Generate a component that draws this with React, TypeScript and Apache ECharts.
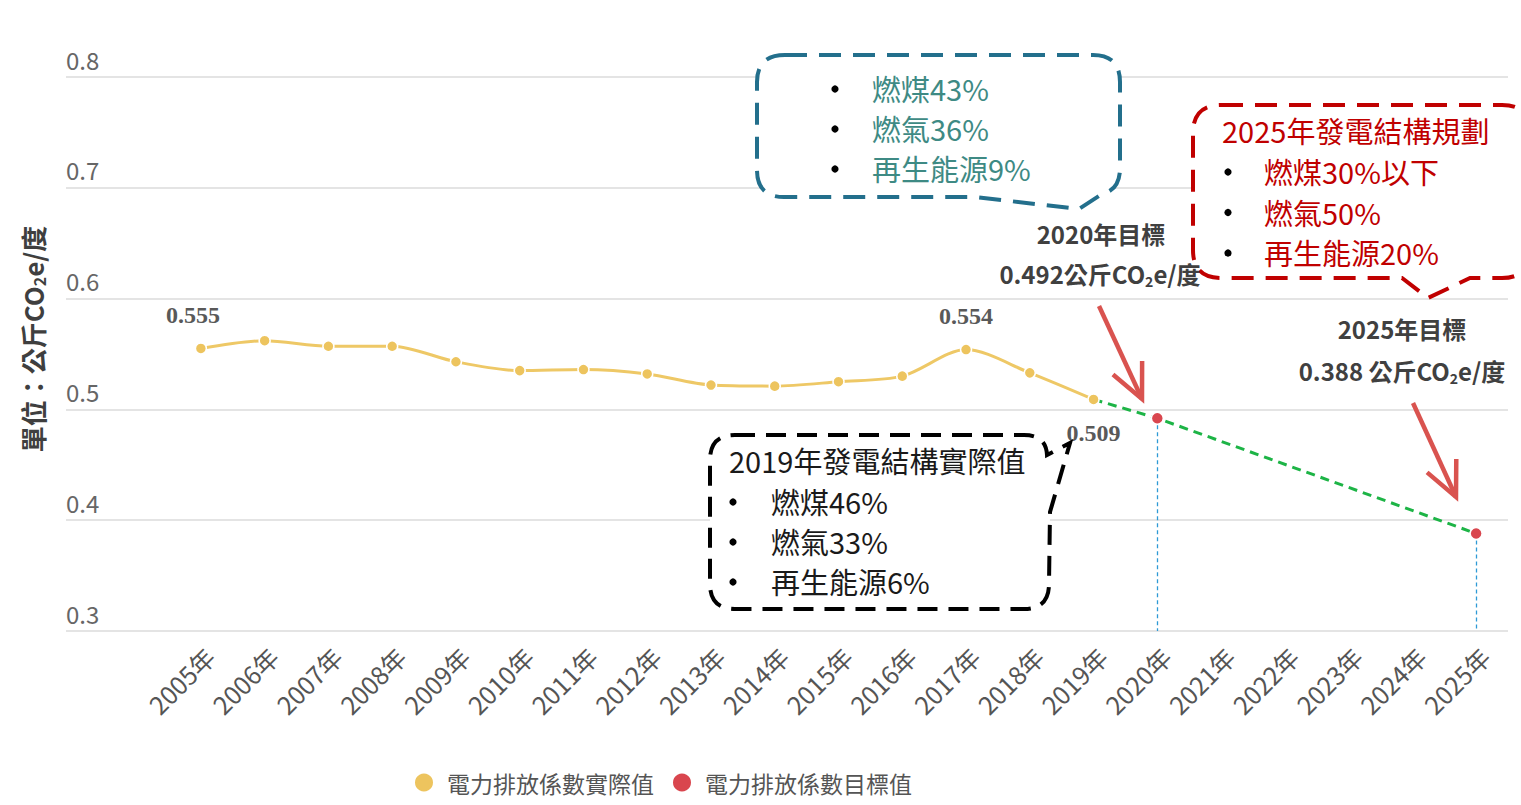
import React, { useEffect, useRef } from 'react';
import * as echarts from 'echarts';

// ---------- data ----------
const years = [
  '2005年', '2006年', '2007年', '2008年', '2009年', '2010年', '2011年',
  '2012年', '2013年', '2014年', '2015年', '2016年', '2017年', '2018年',
  '2019年', '2020年', '2021年', '2022年', '2023年', '2024年', '2025年',
];
const actualValues: (number | null)[] = [
  0.555, 0.562, 0.557, 0.557, 0.543, 0.535, 0.536, 0.532, 0.522, 0.521,
  0.525, 0.530, 0.554, 0.533, 0.509, null, null, null, null, null, null,
];
const targetValues: (number | null)[] = [
  null, null, null, null, null, null, null, null, null, null,
  null, null, null, null, null, 0.492, null, null, null, null, 0.388,
];
const trendValues: (number | null)[] = [
  null, null, null, null, null, null, null, null, null, null,
  null, null, null, null, 0.509, 0.492, null, null, null, null, 0.388,
];
const labeledYears = ['2005年', '2017年', '2019年'];
const yMin = 0.3;
const yMax = 0.8;
const yStep = 0.1;

const seriesActual = '電力排放係數實際值';
const seriesTarget = '電力排放係數目標值';
const yAxisTitle = ['單位：公斤CO', '2', 'e/度'];

const box2019Title = '2019年發電結構實際值';
const box2019Items = ['燃煤46%', '燃氣33%', '再生能源6%'];
const box2020Items = ['燃煤43%', '燃氣36%', '再生能源9%'];
const box2025Title = '2025年發電結構規劃';
const box2025Items = ['燃煤30%以下', '燃氣50%', '再生能源20%'];
const target2020 = ['2020年目標', '0.492公斤CO', '2', 'e/度'];
const target2025 = ['2025年目標', '0.388 公斤CO', '2', 'e/度'];

// ---------- shapes ----------
const bluePath =
  'M785 55 L1093 55 Q1120 55 1120 82 L1120 168 Q1120 190 1102 194 L1079 209 L975 197 L784 197 Q757 197 757 170 L757 82 Q757 55 785 55 Z';
const redPath =
  'M1221 105 L1502 105 Q1530 105 1530 133 L1530 250 Q1530 278 1502 278 L1470 278 L1428 298 L1402 278 L1221 278 Q1193 278 1193 250 L1193 133 Q1193 105 1221 105 Z';
const blackPath =
  'M735 435 L1024 435 Q1046 435 1047 455 L1070 443 L1050 512 L1049 584 Q1049 609 1024 609 L735 609 Q710 609 710 584 L710 460 Q710 435 735 435 Z';

echarts.graphic.registerShape('bubbleBlue', echarts.graphic.extendPath(bluePath, {}) as any);
echarts.graphic.registerShape('bubbleRed', echarts.graphic.extendPath(redPath, {}) as any);
echarts.graphic.registerShape('bubbleBlack', echarts.graphic.extendPath(blackPath, {}) as any);

const CJK = '"Noto Sans CJK TC", "Noto Sans", sans-serif';
const SERIF = '"Liberation Serif", "Times New Roman", serif';

function arrow(x1: number, y1: number, x2: number, y2: number, color: string) {
  const ang = Math.atan2(y1 - y2, x1 - x2);
  const len = 38;
  const spread = (25 * Math.PI) / 180;
  const w1 = [x2 + len * Math.cos(ang - spread), y2 + len * Math.sin(ang - spread)];
  const w2 = [x2 + len * Math.cos(ang + spread), y2 + len * Math.sin(ang + spread)];
  return [
    { type: 'line', z: 120, shape: { x1, y1, x2, y2 }, style: { stroke: color, lineWidth: 4.5 } },
    {
      type: 'polyline', z: 120,
      shape: { points: [w1, [x2, y2], w2] },
      style: { stroke: color, lineWidth: 4.5, fill: null, lineJoin: 'miter' },
    },
  ];
}

function bulletList(items: string[], bulletX: number, textX: number, y0: number, gap: number, color: string) {
  const out: any[] = [];
  items.forEach((t, i) => {
    const y = y0 + i * gap;
    out.push({ type: 'circle', z: 121, shape: { cx: bulletX, cy: y + 1, r: 3.6 }, style: { fill: '#000' } });
    out.push({
      type: 'text', z: 121, x: textX, y,
      style: { text: t, fill: color, font: `29px ${CJK}`, align: 'left', verticalAlign: 'middle' },
    });
  });
  return out;
}

function subText(parts: string[], size: number, color: string, bold: boolean, drop: number) {
  const w = bold ? 'bold' : 'normal';
  return {
    text: `{b|${parts[0]}}{s|${parts[1]}}{b|${parts[2]}}`,
    rich: {
      b: { fontSize: size, lineHeight: size + 2, fontWeight: w, fontFamily: CJK, fill: color },
      s: { fontSize: Math.round(size * 0.6), padding: [drop * 2, 0, 0, 0], fontWeight: w, fontFamily: CJK, fill: color },
    },
  };
}

function buildGraphics() {
  const g: any[] = [];
  // y-axis title
  g.push({
    type: 'text', z: 50, x: 32, y: 339, rotation: Math.PI / 2,
    style: { ...subText(yAxisTitle, 26, '#3f3f3f', true, 7), align: 'center', verticalAlign: 'middle' },
  });
  // bubbles
  const dash = { fill: '#fff', lineWidth: 4, lineCap: 'butt' };
  g.push({ type: 'bubbleBlue', z: 110, style: { ...dash, stroke: '#236f8c', lineDash: [22, 12] } });
  g.push({ type: 'bubbleRed', z: 110, style: { ...dash, stroke: '#c00000', lineDash: [22, 12] } });
  g.push({ type: 'bubbleBlack', z: 110, style: { ...dash, stroke: '#000', lineDash: [20, 11] } });

  g.push(...bulletList(box2020Items, 835, 872, 88, 40, '#3e8a84'));

  g.push({
    type: 'text', z: 121, x: 1222, y: 130,
    style: { text: box2025Title, fill: '#c00000', font: `29px ${CJK}`, align: 'left', verticalAlign: 'middle' },
  });
  g.push(...bulletList(box2025Items, 1228, 1264, 171, 40.5, '#c00000'));

  g.push({
    type: 'text', z: 121, x: 729, y: 460,
    style: { text: box2019Title, fill: '#1a1a1a', font: `29px ${CJK}`, align: 'left', verticalAlign: 'middle' },
  });
  g.push(...bulletList(box2019Items, 733, 771, 501, 40, '#1a1a1a'));

  // target annotations
  const tc = '#404040';
  g.push({
    type: 'text', z: 121, x: 1101, y: 233,
    style: { text: target2020[0], fill: tc, font: `bold 24px ${CJK}`, align: 'center', verticalAlign: 'middle' },
  });
  g.push({
    type: 'text', z: 121, x: 1100, y: 273,
    style: { ...subText(target2020.slice(1), 24, tc, true, 8), align: 'center', verticalAlign: 'middle' },
  });
  g.push({
    type: 'text', z: 121, x: 1402, y: 328,
    style: { text: target2025[0], fill: tc, font: `bold 24px ${CJK}`, align: 'center', verticalAlign: 'middle' },
  });
  g.push({
    type: 'text', z: 121, x: 1402, y: 370,
    style: { ...subText(target2025.slice(1), 24, tc, true, 8), align: 'center', verticalAlign: 'middle' },
  });

  g.push(...arrow(1099, 306, 1142, 399, '#d9534f'));
  g.push(...arrow(1413, 403, 1456, 497, '#d9534f'));
  return g;
}

function buildOption() {
  const labelStyle = { fontFamily: SERIF, fontWeight: 'bold', fontSize: 24, color: '#595959' };
  const actualData = actualValues.map((v, i) => {
    if (v == null || !labeledYears.includes(years[i])) return v == null ? '-' : v;
    const below = i === actualValues.length - 1 || actualValues[i + 1] == null;
    return {
      value: v,
      label: {
        show: true,
        position: below ? 'bottom' : 'top',
        distance: 15,
        offset: i === 0 ? [-8, 0] : [0, 0],
        formatter: v.toFixed(3),
        ...labelStyle,
      },
    };
  });
  const markData: any[] = [];
  targetValues.forEach((v, i) => {
    if (v != null) markData.push([{ coord: [years[i], v] }, { coord: [years[i], yMin] }]);
  });

  return {
    animation: false,
    backgroundColor: '#ffffff',
    grid: [
      { left: 66, right: 13, top: 77, bottom: 174 },
      { left: 169, right: 13, top: 77, bottom: 174 },
    ],
    xAxis: [
      { gridIndex: 0, type: 'value', show: false, min: 0, max: 1 },
      {
        gridIndex: 1, type: 'category', data: years, boundaryGap: true,
        axisLine: { show: false }, axisTick: { show: false },
        axisLabel: {
          interval: 0, rotate: 45, fontSize: 25, color: '#555', fontFamily: CJK,
          margin: 12, verticalAlign: 'top',
        },
      },
    ],
    yAxis: [
      {
        gridIndex: 0, type: 'value', min: yMin, max: yMax, interval: yStep,
        axisLine: { show: false }, axisTick: { show: false },
        splitLine: { show: true, lineStyle: { color: '#e4e4e4', width: 2 } },
        axisLabel: {
          inside: true, margin: 0, verticalAlign: 'bottom', align: 'left',
          fontSize: 24, color: '#666', fontFamily: CJK, padding: [0, 0, 6, 0],
          formatter: (v: number) => v.toFixed(1),
        },
      },
      { gridIndex: 1, type: 'value', min: yMin, max: yMax, interval: yStep, show: false, splitLine: { show: false } },
    ],
    legend: {
      data: [seriesActual, seriesTarget],
      left: 408, top: 766, icon: 'circle', itemWidth: 20, itemHeight: 20, itemGap: 17,
      textStyle: { fontSize: 23, color: '#555', fontFamily: CJK, padding: [0, 0, 0, 8] },
    },
    series: [
      {
        name: '目標趨勢', type: 'line', xAxisIndex: 1, yAxisIndex: 1,
        data: trendValues.map((v) => (v == null ? '-' : v)), connectNulls: true,
        symbol: 'none', z: 2,
        lineStyle: { color: '#1db446', width: 3, type: [9, 6] },
      },
      {
        name: seriesActual, type: 'line', xAxisIndex: 1, yAxisIndex: 1,
        data: actualData, smooth: 0.3, symbol: 'circle', symbolSize: 11, z: 3,
        lineStyle: { color: '#eec866', width: 3 },
        itemStyle: { color: '#edc45e', borderColor: '#fff', borderWidth: 1.5 },
      },
      {
        name: seriesTarget, type: 'scatter', xAxisIndex: 1, yAxisIndex: 1,
        data: targetValues.map((v) => (v == null ? '-' : v)), symbol: 'circle', symbolSize: 12, z: 4,
        itemStyle: { color: '#d9464e', borderColor: '#fff', borderWidth: 1.5, opacity: 1 },
        markLine: {
          silent: true, symbol: ['none', 'none'], label: { show: false }, z: 1,
          lineStyle: { color: '#2e9ad6', type: [4, 3], width: 1.3 },
          data: markData,
        },
      },
    ],
    graphic: buildGraphics(),
  };
}

export default function App() {
  const ref = useRef<HTMLDivElement>(null);
  useEffect(() => {
    if (!ref.current) return;
    const chart = echarts.init(ref.current, undefined, { renderer: 'svg' });
    chart.setOption(buildOption() as any);
    return () => chart.dispose();
  }, []);
  return (
    <div
      ref={ref}
      style={{ position: 'absolute', left: 0, top: 0, width: 1521, height: 805, background: '#fff' }}
    />
  );
}
